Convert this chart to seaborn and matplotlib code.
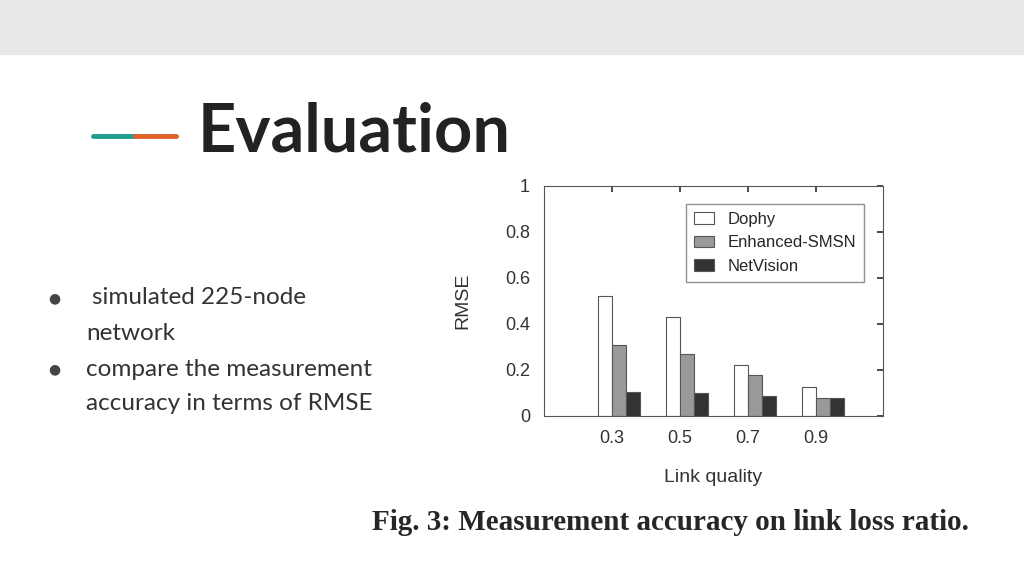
import matplotlib
matplotlib.use("Agg")
import matplotlib.pyplot as plt
import seaborn as sns
import pandas as pd

qualities = ["0.3", "0.5", "0.7", "0.9"]
methods = ["Dophy", "Enhanced-SMSN", "NetVision"]
dophy = [0.52, 0.43, 0.22, 0.127]
smsn = [0.31, 0.27, 0.18, 0.077]
netvision = [0.105, 0.098, 0.088, 0.077]
bullets = ["simulated 225-node", "network", "compare the measurement", "accuracy in terms of RMSE"]

df = pd.DataFrame({
    "quality": qualities * 3,
    "method": [m for m in methods for _ in qualities],
    "rmse": dophy + smsn + netvision,
})

sns.set_theme(style="white")
fig = plt.figure(figsize=(10.24, 5.76), dpi=100)
fig.patch.set_facecolor("white")

# slide decoration
fig.patches.append(plt.Rectangle((0, 1 - 54 / 576), 1, 54 / 576, transform=fig.transFigure,
                                 color="#e8e8e8", zorder=0))
fig.add_artist(plt.Line2D([93 / 1024, 135 / 1024], [1 - 136 / 576] * 2, color="#1f9e8f", lw=3.5))
fig.add_artist(plt.Line2D([135 / 1024, 176 / 1024], [1 - 136 / 576] * 2, color="#e0622a", lw=3.5))
fig.text(198 / 1024, 1 - 133 / 576, "Evaluation", fontsize=48, fontweight="bold",
         family="Lato", color="#222222", va="center")

for i, (txt, y) in enumerate(zip(bullets, [298, 333, 369, 404])):
    if i in (0, 2):
        fig.text(48 / 1024, 1 - y / 576, "●", fontsize=10, color="#444444", va="center")
    x = 92 if i == 0 else 86
    fig.text(x / 1024, 1 - y / 576, txt, fontsize=17.5, family="Lato", color="#333333", va="center")

fig.text(670 / 1024, 1 - 522 / 576, "Fig. 3: Measurement accuracy on link loss ratio.",
         fontsize=21, fontweight="bold", family="Liberation Serif", ha="center", va="center")

ax = fig.add_axes([544 / 1024, 1 - 416 / 576, 339 / 1024, 230 / 576])
sns.barplot(data=df, x="quality", y="rmse", hue="method", hue_order=methods,
            palette=["white", "#999999", "#333333"], width=0.62, edgecolor="#555555",
            linewidth=0.8, ax=ax)
ax.set_ylim(0, 1)
ax.set_xlim(-1.103, 3.88)
ax.set_xticks([i - 0.103 for i in range(4)])
ax.set_xticklabels(qualities)
ax.set_yticks([0, 0.2, 0.4, 0.6, 0.8, 1])
ax.set_yticklabels(["0", "0.2", "0.4", "0.6", "0.8", "1"])
ax.tick_params(direction="in", top=True, right=True, length=4, labelsize=13, colors="#333333", pad=10)
for lab in ax.get_xticklabels() + ax.get_yticklabels():
    lab.set_family("Liberation Sans")
for s in ax.spines.values():
    s.set_color("#555555")
    s.set_linewidth(0.8)
ax.set_xlabel("Link quality", fontsize=14, family="Liberation Sans", color="#333333", labelpad=16)
ax.set_ylabel("RMSE", fontsize=14, family="Liberation Sans", color="#333333", labelpad=24)
leg = ax.legend(loc="upper right", bbox_to_anchor=(0.97, 0.96), frameon=True, fancybox=False,
                edgecolor="#777777", handlelength=1.2, borderpad=0.5, labelspacing=0.5,
                prop={"family": "Liberation Sans", "size": 12})
leg.set_title(None)

fig.savefig("out.png", dpi=100)
